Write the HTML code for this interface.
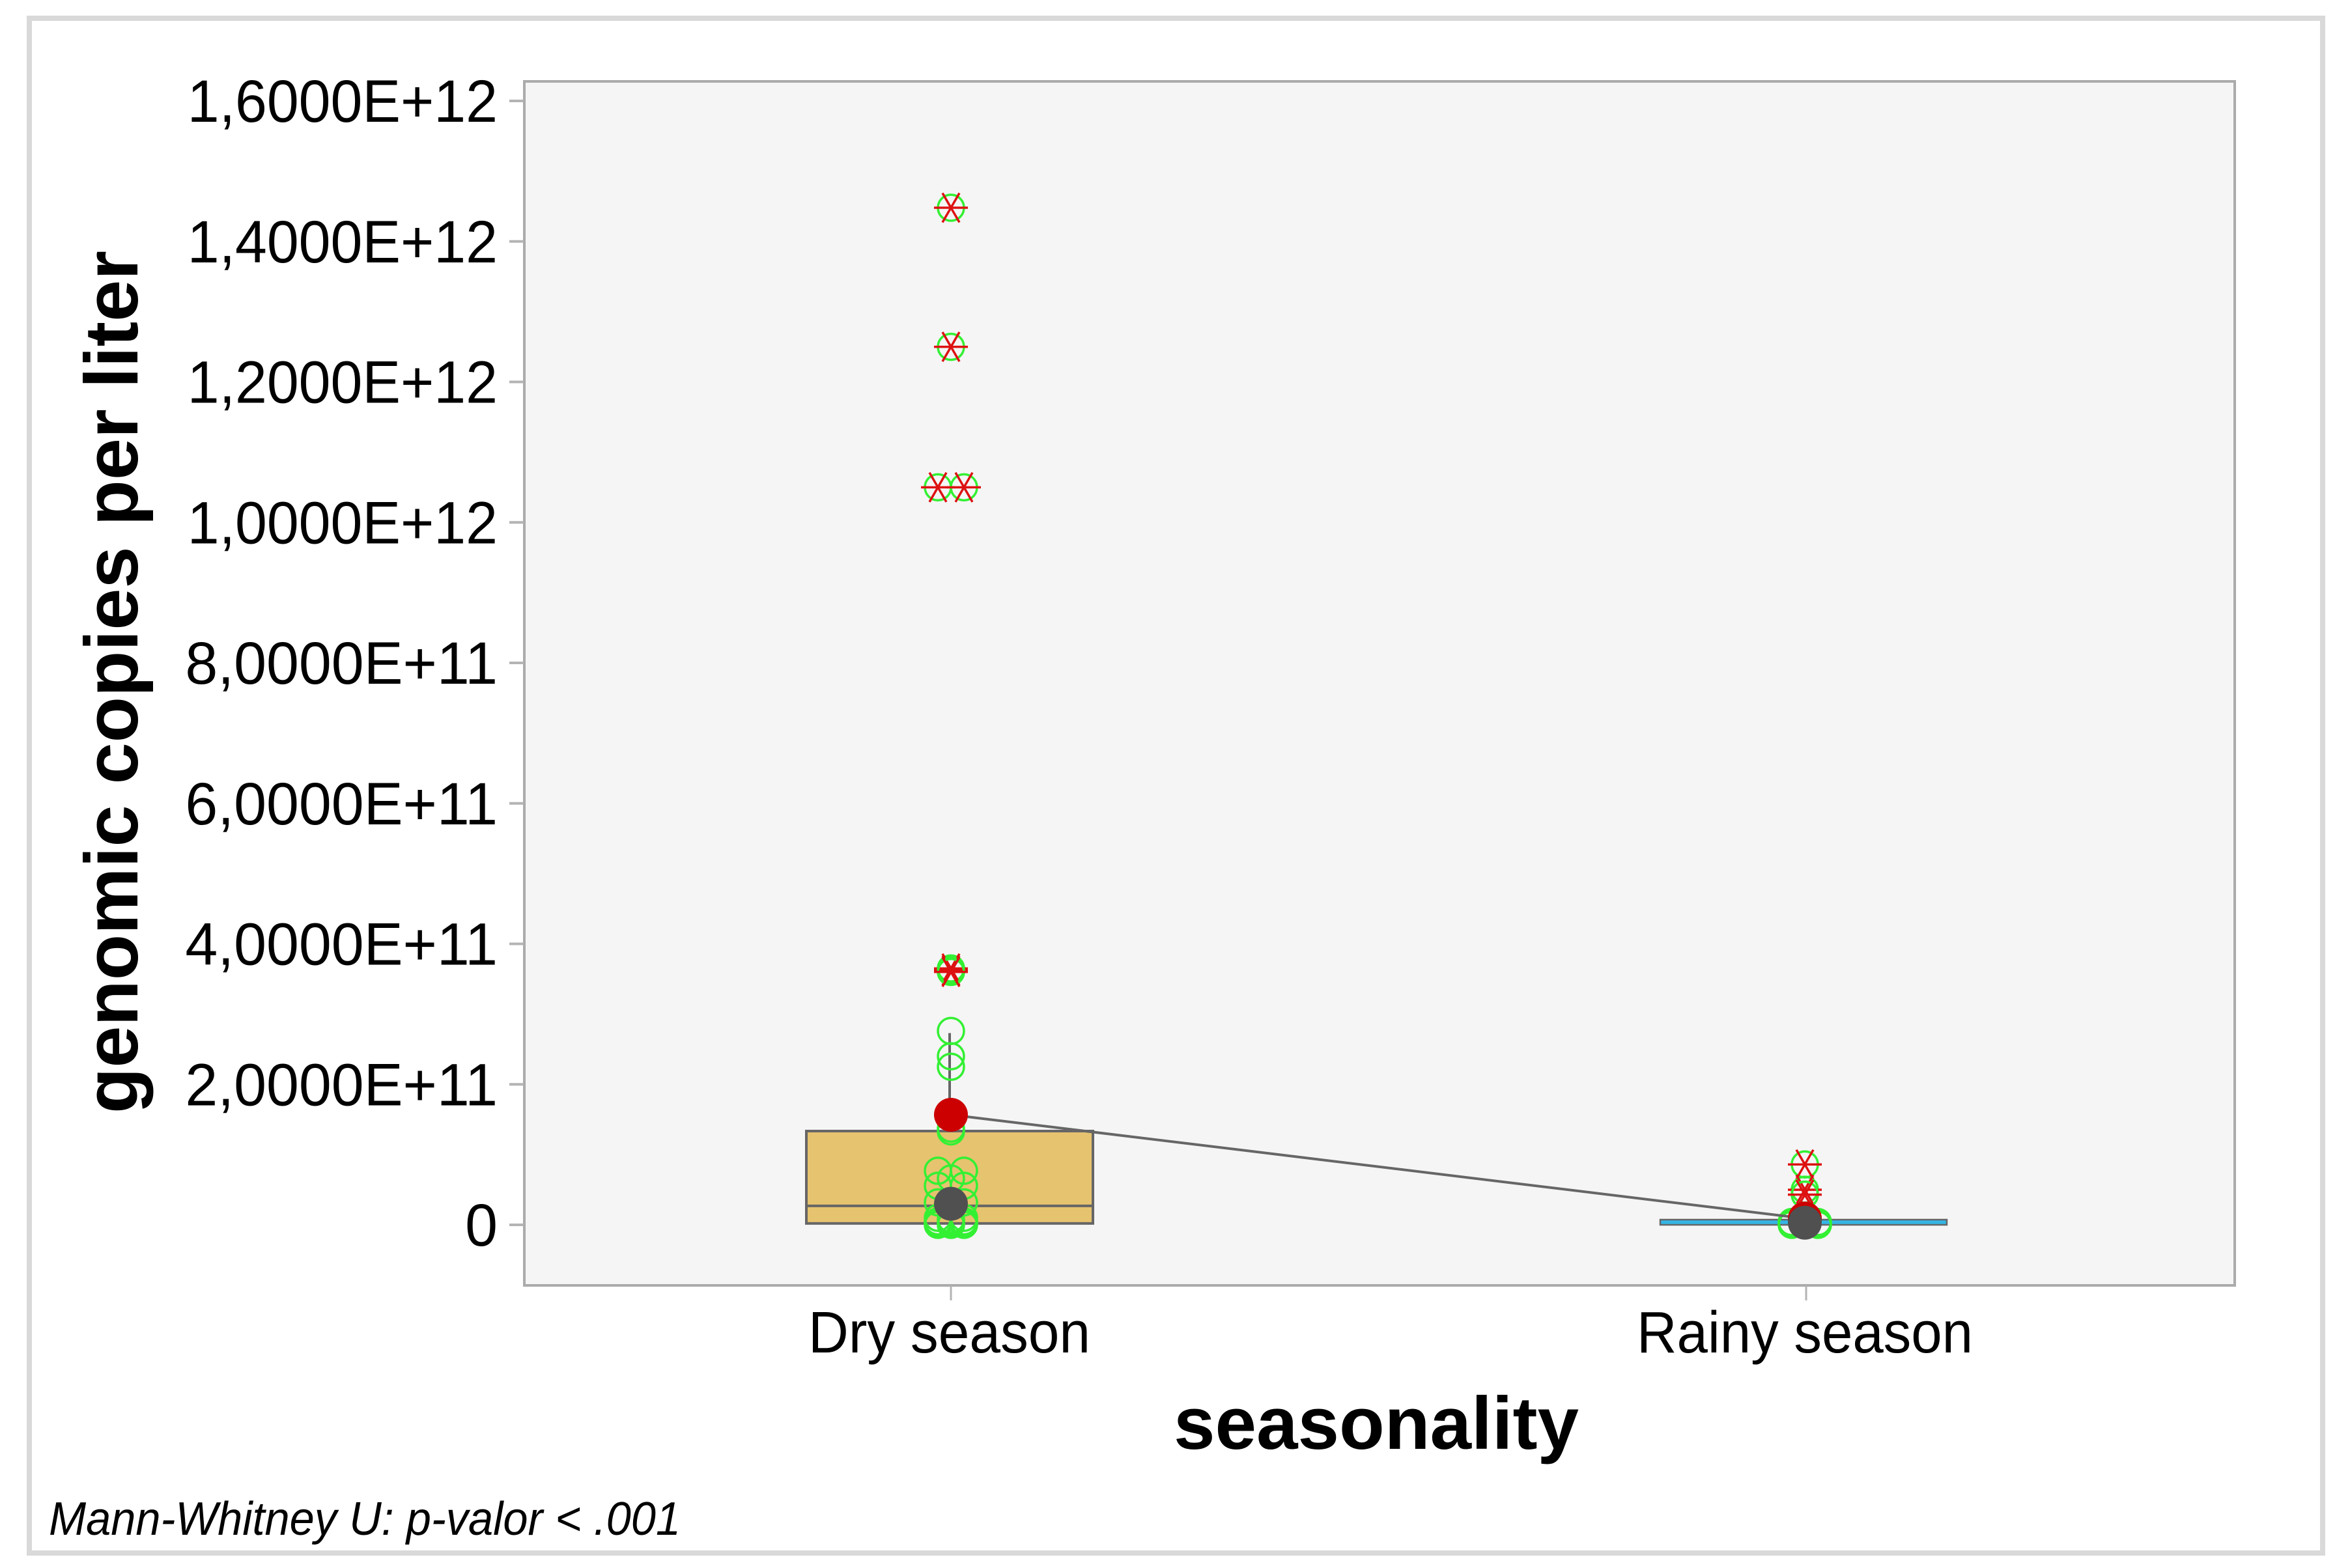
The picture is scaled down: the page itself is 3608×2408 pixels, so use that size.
<!DOCTYPE html>
<html lang="en">
<head>
<meta charset="utf-8">
<title>Genomic copies per liter by seasonality</title>
<style>
  html, body { margin: 0; padding: 0; background: #ffffff; }
  body { width: 3608px; height: 2408px; overflow: hidden; }
  svg { display: block; }
  text { font-family: "Liberation Sans", Arial, sans-serif; fill: #000; }
</style>
</head>
<body>
<svg id="chart" xmlns="http://www.w3.org/2000/svg" width="3608" height="2408" viewBox="0 0 3608 2408">
  <rect x="0" y="0" width="3608" height="2408" fill="#ffffff"/>
  <rect x="45" y="28" width="3521" height="2357" fill="#ffffff" stroke="#d9d9d9" stroke-width="8"/>
  <rect x="805" y="125" width="2626" height="1849" fill="#f5f5f5" stroke="#ababab" stroke-width="4"/>
  <g id="y-axis"></g>
  <g id="x-axis"></g>
  <g id="marks"></g>
  <text transform="translate(211,1710) rotate(-90)" font-size="116" font-weight="700" textLength="1325" lengthAdjust="spacingAndGlyphs">genomic copies per liter</text>
  <text x="1802" y="2225" font-size="114" font-weight="700" textLength="622" lengthAdjust="spacingAndGlyphs">seasonality</text>
  <text x="75" y="2357" font-size="72" font-style="italic" textLength="970" lengthAdjust="spacingAndGlyphs">Mann-Whitney U: p-valor &lt; .001</text>
</svg>
<script>
// All values in units of 1E+11 genomic copies per liter.
const categories = ['Dry season', 'Rainy season'];
const yTickValues = [16, 14, 12, 10, 8, 6, 4, 2, 0];
const yTickLabels = ['1,6000E+12', '1,4000E+12', '1,2000E+12', '1,0000E+12', '8,0000E+11', '6,0000E+11', '4,0000E+11', '2,0000E+11', '0'];

const q1Values = [0.02, 0.0];
const medianValues = [0.27, 0.03];
const q3Values = [1.335, 0.074];
const whiskerHighValues = [2.73, 0.074];
const meanValues = [1.567, 0.09];
const medianDotValues = [0.30, 0.03];

// Outliers: value plus swarm column (in half-marker steps from the category centre).
const dryCircleValues = [2.76, 2.40, 2.25, 1.37, 1.33, 0.77, 0.77, 0.66, 0.556, 0.556, 0.32, 0.32, 0.10, 0.10, 0.08, 0.05, 0.05, 0.05, 0.03, 0.03, 0.03, 0.02, 0.02, 0.02, 0.01, 0.01, 0.01, 0.0, 0.0, 0.0];
const dryCircleColumns = [0, 0, 0, 0, 0, -0.5, 0.5, 0, -0.5, 0.5, -0.5, 0.5, -0.5, 0.5, 0, -0.5, 0, 0.5, -0.5, 0, 0.5, -0.5, 0, 0.5, -0.5, 0, 0.5, -0.5, 0, 0.5];
const dryStarValues = [14.48, 12.5, 10.5, 10.5, 3.65, 3.62, 3.6];
const dryStarColumns = [0, 0, -0.5, 0.5, 0, 0, 0];

const rainyCircleValues = [0.04, 0.03, 0.02, 0.01, 0.0, 0.04, 0.03, 0.02, 0.01, 0.0, 0.02, 0.0];
const rainyCircleColumns = [-0.5, -0.5, -0.5, -0.5, -0.5, 0.5, 0.5, 0.5, 0.5, 0.5, 0, 0];
const rainyStarValues = [0.86, 0.5, 0.43];
const rainyStarColumns = [0, 0, 0];

const SVG_NS = 'http://www.w3.org/2000/svg';
const yZero = 1881;
const yPerUnit = 107.875;
const xFirst = 1460;
const xStep = 1311;
const boxHalfWidth = 220;
const boxShift = -2;
const columnStep = 40;
const ringRadius = 20;
const armLength = 26;
const dotRadius = 26;

function yScale(v) { return yZero - v * yPerUnit; }
function xScale(i) { return xFirst + i * xStep; }
function mk(tag, attrs, parent) {
  const el = document.createElementNS(SVG_NS, tag);
  for (const k in attrs) el.setAttribute(k, attrs[k]);
  parent.appendChild(el);
  return el;
}

const yAxis = document.getElementById('y-axis');
const xAxis = document.getElementById('x-axis');
const marks = document.getElementById('marks');

yTickValues.forEach(function (v, i) {
  const tick = mk('line', { x1: 782, x2: 804, y1: yScale(v), y2: yScale(v), stroke: '#b4b4b4', 'stroke-width': 4 }, yAxis);
  
  
  const squeeze = v >= 10 ? 0.955 : 0.975;
  const label = mk('text', { transform: 'translate(764,' + (yScale(v) + 32) + ') scale(' + squeeze + ',1)', 'font-size': 92, 'text-anchor': 'end' }, yAxis);
  
  
  label.textContent = yTickLabels[i];
});

const xLabelStart = [1241, 2513];
const xLabelLength = [433, 516];
categories.forEach(function (c, i) {
  const tick = mk('line', { x1: xScale(i) + i * 2, x2: xScale(i) + i * 2, y1: 1975, y2: 1997, stroke: '#b4b4b4', 'stroke-width': 3 }, xAxis);
  
  
  const label = mk('text', { x: xLabelStart[i], y: 2077, 'font-size': 90, textLength: xLabelLength[i], lengthAdjust: 'spacingAndGlyphs' }, xAxis);
  
  
  label.textContent = c;
});

const boxFills = ['#e6c36f', '#33b5e5'];
const boxStrokes = [4, 2.5];
categories.forEach(function (c, i) {
  const whisker = mk('line', { x1: xScale(i) - 2, x2: xScale(i) - 2, y1: yScale(whiskerHighValues[i]), y2: yScale(q3Values[i]), stroke: '#666666', 'stroke-width': 4 }, marks);
  
  
  const box = mk('rect', { x: xScale(i) + boxShift - boxHalfWidth, y: yScale(q3Values[i]), width: boxHalfWidth * 2, height: yScale(q1Values[i]) - yScale(q3Values[i]), fill: boxFills[i], stroke: '#666666', 'stroke-width': boxStrokes[i] }, marks);
  
  
  const median = mk('line', { x1: xScale(i) + boxShift - boxHalfWidth, x2: xScale(i) + boxShift + boxHalfWidth, y1: yScale(medianValues[i]), y2: yScale(medianValues[i]), stroke: '#666666', 'stroke-width': boxStrokes[i], 'stroke-opacity': i === 0 ? 1 : 0 }, marks);
  
  
});

function drawRing(catIndex, value, column) {
  const ring = mk('circle', { cx: xScale(catIndex) + column * columnStep, cy: yScale(value), r: ringRadius, fill: 'none', stroke: '#33f033', 'stroke-width': 3.5 }, marks);
  return ring;
}
function drawStar(catIndex, value, column) {
  const cx = xScale(catIndex) + column * columnStep;
  const cy = yScale(value);
  const g = mk('g', {}, marks);
  mk('circle', { cx: cx, cy: cy, r: ringRadius, fill: 'none', stroke: '#33f033', 'stroke-width': 3.5 }, g);
  [0, 60, 120].forEach(function (deg) {
    const a = deg * Math.PI / 180;
    mk('line', {
      x1: cx - armLength * Math.cos(a), y1: cy - armLength * Math.sin(a),
      x2: cx + armLength * Math.cos(a), y2: cy + armLength * Math.sin(a),
      stroke: '#dd1111', 'stroke-width': 3.5
    }, g);
  });
  return g;
}

dryCircleValues.forEach(function (v, i) {
  const ring = drawRing(0, v, dryCircleColumns[i]);
  
  
});
rainyCircleValues.forEach(function (v, i) {
  const ring = drawRing(1, v, rainyCircleColumns[i]);
  
  
});
dryStarValues.forEach(function (v, i) {
  const star = drawStar(0, v, dryStarColumns[i]);
  
  
});
rainyStarValues.forEach(function (v, i) {
  const star = drawStar(1, v, rainyStarColumns[i]);
  
  
});

const meanLine = mk('line', { x1: xScale(0), y1: yScale(meanValues[0]), x2: xScale(1), y2: yScale(meanValues[1]), stroke: '#666666', 'stroke-width': 4 }, marks);



categories.forEach(function (c, i) {
  const meanDot = mk('circle', { cx: xScale(i), cy: yScale(meanValues[i]), r: dotRadius, fill: '#cc0000' }, marks);
  
  
});
categories.forEach(function (c, i) {
  const medianDot = mk('circle', { cx: xScale(i), cy: yScale(medianDotValues[i]), r: dotRadius, fill: '#505050' }, marks);
  
  
});
</script>
</body>
</html>
